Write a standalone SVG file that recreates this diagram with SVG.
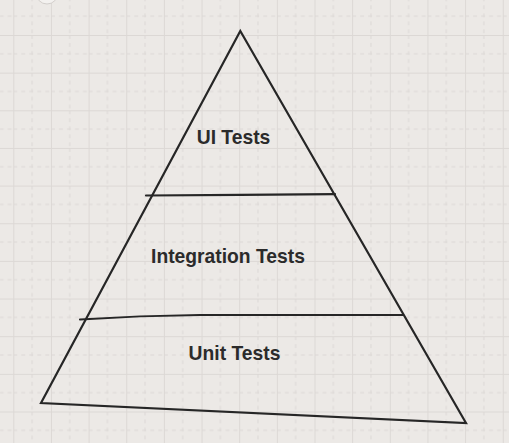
<svg xmlns="http://www.w3.org/2000/svg" width="509" height="443" viewBox="0 0 509 443">
  <defs>
    <style>
      .bg { fill: #ece9e6; }
      .grid-solid { stroke: #dcd8d5; stroke-width: 1; fill: none; }
      .grid-dash { stroke: #dcd8d5; stroke-width: 1; stroke-dasharray: 4 4; fill: none; }
      .edge { stroke: #262626; stroke-width: 2.2; fill: none; stroke-linecap: round; stroke-linejoin: miter; }
      .label { font-family: "Liberation Sans", Arial, sans-serif; font-size: 19.3px; font-weight: bold; fill: #2b2b2b; text-anchor: middle; }
    </style>
    <pattern id="grid" x="13.3" y="-2.65" width="37.65" height="37.65" patternUnits="userSpaceOnUse">
      <line class="grid-dash" x1="18.8" y1="0" x2="18.8" y2="37.65"/>
      <line class="grid-dash" x1="0" y1="18.8" x2="37.65" y2="18.8"/>
      <line class="grid-solid" x1="0.5" y1="0" x2="0.5" y2="37.65"/>
      <line class="grid-solid" x1="0" y1="0.5" x2="37.65" y2="0.5"/>
    </pattern>
  </defs>
  <rect class="bg" x="0" y="0" width="509" height="443"/>
  <rect x="0" y="0" width="509" height="443" fill="url(#grid)"/>
  <circle cx="47" cy="-7" r="11" fill="#f3f1ef" stroke="#d2cecb" stroke-width="1"/>

  <g id="connectors">
    <path id="pyramid-outline" class="edge" d="M240.3 31 L41 403 L466 423 Z"/>
    <path id="divider-top" class="edge" d="M146 195.5 L240 194.8 L335 194.2"/>
    <path id="divider-bottom" class="edge" d="M80 319.5 C110 317.5 140 315.5 200 315 L403 315"/>
  </g>

  <g id="node-ui">
    <text class="label" x="233.5" y="143.5">UI Tests</text>
  </g>
  <g id="node-integration">
    <text class="label" x="228" y="262.5">Integration Tests</text>
  </g>
  <g id="node-unit">
    <text class="label" x="234.5" y="360.3">Unit Tests</text>
  </g>
</svg>
